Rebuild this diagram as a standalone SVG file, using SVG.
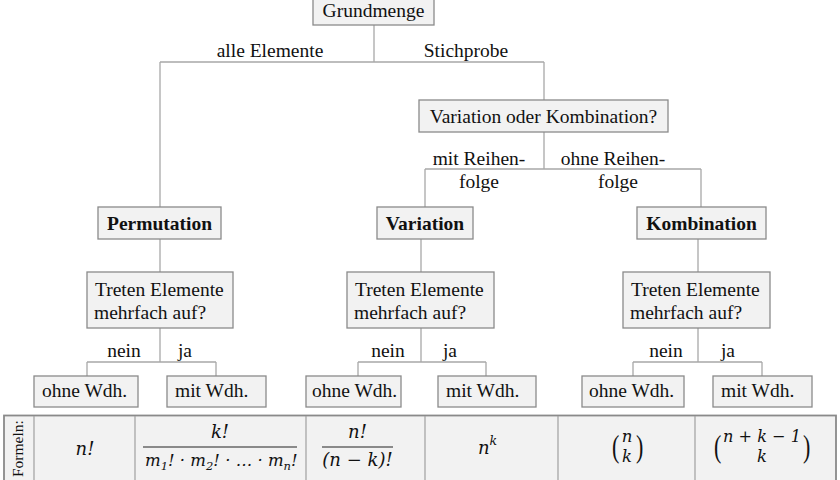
<svg xmlns="http://www.w3.org/2000/svg" width="840" height="480" viewBox="0 0 840 480">
<style>
.box{fill:#f2f2f2;stroke:#8a8a8a;stroke-width:1.3}
.t{font-family:"Liberation Serif","Times New Roman",serif;font-size:19.5px;fill:#111}
.c{text-anchor:middle}
.b{font-weight:bold}
.ln{fill:none;stroke:#a8a8a8;stroke-width:1.3}
.tab{fill:#f2f2f2;stroke:#8a8a8a;stroke-width:1.8}
.sep{stroke:#a0a0a0;stroke-width:1.2}
.m{font-family:"DejaVu Serif","Liberation Serif",serif;font-style:italic;font-size:18px;fill:#111}
.ms{font-family:"DejaVu Serif","Liberation Serif",serif;font-style:italic;font-size:16.5px;fill:#111}
.mr{font-family:"Liberation Serif","Times New Roman",serif;font-size:22px;fill:#111}
.fr{stroke:#222;stroke-width:1.2}
</style>
<rect width="840" height="480" fill="#fff"/>
<g id="connectors">
<path class="ln" d="M374,25V62M160,62H544M160,62V207M544,62V100"/>
<path class="ln" d="M544,132V169M425,169H701M425,169V207M701,169V207"/>
<path class="ln" d="M160,239V272M421,239V272M698,239V272"/>
<path class="ln" d="M160,328V362M87,362H216M87,362V376M216,362V376"/>
<path class="ln" d="M421,328V362M358,362H486M358,362V376M486,362V376"/>
<path class="ln" d="M698,328V362M633,362H762M633,362V376M762,362V376"/>
<text class="t c" x="270" y="57">alle Elemente</text>
<text class="t c" x="466" y="57">Stichprobe</text>
<text class="t c" x="479" y="165">mit Reihen-</text>
<text class="t c" x="479" y="188">folge</text>
<text class="t c" x="613" y="165">ohne Reihen-</text>
<text class="t c" x="618" y="188">folge</text>
<text class="t c" x="124" y="357">nein</text>
<text class="t c" x="185" y="357">ja</text>
<text class="t c" x="388" y="357">nein</text>
<text class="t c" x="450" y="357">ja</text>
<text class="t c" x="666" y="357">nein</text>
<text class="t c" x="728" y="357">ja</text>
</g>
<g id="grundmenge"><rect class="box" x="313" y="-1" width="121" height="26"/><text class="t c" x="373.5" y="17">Grundmenge</text></g>
<g id="vok"><rect class="box" x="419" y="100" width="249" height="32"/><text class="t c" x="543.5" y="123">Variation oder Kombination?</text></g>
<g id="permutation"><rect class="box" x="98" y="207" width="123" height="32"/><text class="t c b" x="159.5" y="230">Permutation</text></g>
<g id="variation"><rect class="box" x="377" y="207" width="96" height="32"/><text class="t c b" x="425" y="230">Variation</text></g>
<g id="kombination"><rect class="box" x="637" y="207" width="129" height="32"/><text class="t c b" x="701.5" y="230">Kombination</text></g>
<g id="q-perm"><rect class="box" x="87" y="272" width="146" height="56"/><text class="t" x="95" y="296">Treten Elemente</text><text class="t" x="94" y="319">mehrfach auf?</text></g>
<g id="q-var"><rect class="box" x="347" y="272" width="147" height="56"/><text class="t" x="355" y="296">Treten Elemente</text><text class="t" x="354" y="319">mehrfach auf?</text></g>
<g id="q-komb"><rect class="box" x="623" y="272" width="147" height="56"/><text class="t" x="631" y="296">Treten Elemente</text><text class="t" x="630" y="319">mehrfach auf?</text></g>
<g id="perm-ohne"><rect class="box" x="34" y="376" width="104" height="31"/><text class="t" x="42" y="397">ohne Wdh.</text></g>
<g id="perm-mit"><rect class="box" x="167" y="376" width="99" height="31"/><text class="t" x="175" y="397">mit Wdh.</text></g>
<g id="var-ohne"><rect class="box" x="306" y="376" width="95" height="31"/><text class="t" x="312" y="397">ohne Wdh.</text></g>
<g id="var-mit"><rect class="box" x="438" y="376" width="98" height="31"/><text class="t" x="446" y="397">mit Wdh.</text></g>
<g id="komb-ohne"><rect class="box" x="582" y="376" width="102" height="31"/><text class="t" x="589" y="397">ohne Wdh.</text></g>
<g id="komb-mit"><rect class="box" x="713" y="376" width="99" height="31"/><text class="t" x="721" y="397">mit Wdh.</text></g>
<g id="formeln">
<rect class="tab" x="4" y="415.5" width="832" height="70"/>
<path class="sep" d="M34,416V480M135,416V480M306,416V480M425,416V480M558,416V480M695,416V480"/>
<text class="t" transform="translate(23,477) rotate(-90)" style="font-size:15.5px">Formeln:</text>
<text class="m c" x="85" y="455">n!</text>
<text class="m c" x="220" y="438">k!</text>
<line class="fr" x1="143" y1="447" x2="297" y2="447"/>
<text class="m" x="145" y="466" style="font-size:16.5px">m<tspan font-size="11.5" dy="4">1</tspan><tspan dy="-4">! · m</tspan><tspan font-size="11.5" dy="4">2</tspan><tspan dy="-4">! · … · m</tspan><tspan font-size="11.5" dy="4">n</tspan><tspan dy="-4">!</tspan></text>
<text class="m c" x="357.5" y="438">n!</text>
<line class="fr" x1="322" y1="447" x2="393" y2="447"/>
<text class="m c" x="357.5" y="466">(n − k)!</text>
<text class="m" x="478" y="454">n<tspan font-size="12.5" dy="-9">k</tspan></text>
<text class="mr" transform="translate(612,457) scale(1,1.45)">(</text>
<text class="ms c" x="627" y="442">n</text>
<text class="ms c" x="627" y="462">k</text>
<text class="mr" transform="translate(636,457) scale(1,1.45)">)</text>
<text class="mr" transform="translate(714,457) scale(1,1.45)">(</text>
<text class="ms c" x="762" y="442" textLength="78" lengthAdjust="spacingAndGlyphs">n + k − 1</text>
<text class="ms c" x="762" y="462">k</text>
<text class="mr" transform="translate(803,457) scale(1,1.45)">)</text>
</g>
</svg>
